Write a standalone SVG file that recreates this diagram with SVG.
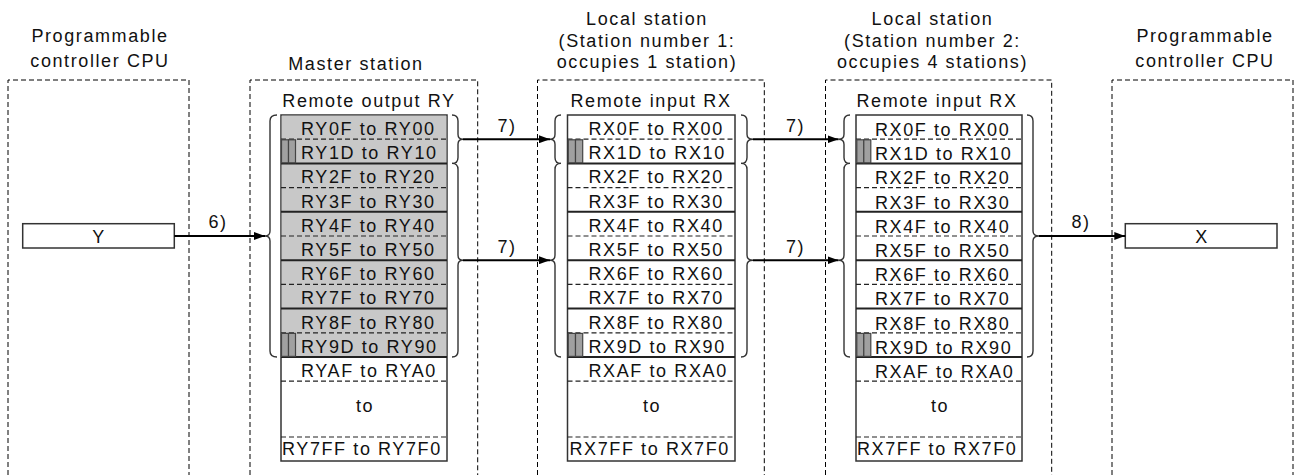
<svg xmlns="http://www.w3.org/2000/svg" width="1294" height="475" viewBox="0 0 1294 475">
<style>
  text { font-family: "Liberation Sans", Arial, sans-serif; font-size: 18px; fill: #111; letter-spacing: 1.6px; }
  .c { text-anchor: middle; }
  .zone { fill: none; stroke: #000; stroke-width: 1; stroke-dasharray: 5 3; }
  .tbl { fill: #fff; stroke: #333; stroke-width: 1.5; }
  .shade { fill: #c8c8c8; stroke: none; }
  .sep { stroke: #222; stroke-width: 2; }
  .dsep { stroke: #222; stroke-width: 1.2; stroke-dasharray: 5 3; }
  .bar { fill: #a0a0a0; stroke: #444; stroke-width: 1.2; }
  .brace { fill: none; stroke: #333; stroke-width: 1.4; }
  .box { fill: #fff; stroke: #333; stroke-width: 1.5; }
  .arrow { stroke: #000; stroke-width: 2; fill: none; marker-end: url(#ah); }
</style>
<defs>
  <marker id="ah" markerUnits="userSpaceOnUse" markerWidth="11" markerHeight="8" refX="11" refY="4" orient="auto">
    <path d="M0,0 L11,4 L0,8 z" fill="#000"/>
  </marker>
</defs>

<g id="cpu-left">
  <path class="zone" d="M8 475 V80 H189 V475"/>
  <text class="c" x="100" y="42">Programmable</text>
  <text class="c" x="100" y="67">controller CPU</text>
  <rect class="box" x="22.7" y="223.7" width="151.6" height="24.3"/>
  <text class="c" x="99" y="242.5">Y</text>
</g>

<g id="master">
  <path class="zone" d="M250 475 V80 H477.7 V475"/>
  <text class="c" x="356" y="70">Master station</text>
  <text class="c" x="369" y="107">Remote output RY</text>
  <rect class="tbl" x="281" y="115" width="166" height="346"/>
  <rect class="shade" x="281.7" y="115.7" width="164.6" height="241.3"/>
  <line class="dsep" x1="281" y1="139.2" x2="447" y2="139.2"/>
  <line class="sep" x1="281" y1="163.4" x2="447" y2="163.4"/>
  <line class="dsep" x1="281" y1="187.6" x2="447" y2="187.6"/>
  <line class="sep" x1="281" y1="211.8" x2="447" y2="211.8"/>
  <line class="dsep" x1="281" y1="236" x2="447" y2="236"/>
  <line class="sep" x1="281" y1="260.2" x2="447" y2="260.2"/>
  <line class="dsep" x1="281" y1="284.4" x2="447" y2="284.4"/>
  <line class="sep" x1="281" y1="308.6" x2="447" y2="308.6"/>
  <line class="dsep" x1="281" y1="332.8" x2="447" y2="332.8"/>
  <line class="sep" x1="281" y1="357" x2="447" y2="357"/>
  <line class="dsep" x1="281" y1="381.2" x2="447" y2="381.2"/>
  <line class="dsep" x1="281" y1="437" x2="447" y2="437"/>
  <rect class="bar" x="281.5" y="139.8" width="7" height="23"/>
  <rect class="bar" x="288.5" y="139.8" width="7" height="23"/>
  <rect class="bar" x="281.5" y="333.4" width="7" height="23"/>
  <rect class="bar" x="288.5" y="333.4" width="7" height="23"/>
  <text x="301" y="135">RY0F to RY00</text>
  <text x="301" y="159.2">RY1D to RY10</text>
  <text x="301" y="183.4">RY2F to RY20</text>
  <text x="301" y="207.6">RY3F to RY30</text>
  <text x="301" y="231.8">RY4F to RY40</text>
  <text x="301" y="256">RY5F to RY50</text>
  <text x="301" y="280.2">RY6F to RY60</text>
  <text x="301" y="304.4">RY7F to RY70</text>
  <text x="301" y="328.6">RY8F to RY80</text>
  <text x="301" y="352.8">RY9D to RY90</text>
  <text x="301" y="376.5">RYAF to RYA0</text>
  <text class="c" x="365" y="411.5">to</text>
  <text x="282" y="455">RY7FF to RY7F0</text>
  <path class="brace" d="M277 115 Q270 115 270 121 L270 231 Q270 236 265 236 Q270 236 270 241 L270 351 Q270 357 277 357"/>
  <path class="brace" d="M452 115 Q458 115 458 121 L458 134.2 Q458 139.2 463 139.2 Q458 139.2 458 144.2 L458 157.4 Q458 163.4 452 163.4"/>
  <path class="brace" d="M452 163.4 Q458 163.4 458 169.4 L458 255.2 Q458 260.2 463 260.2 Q458 260.2 458 265.2 L458 351 Q458 357 452 357"/>
</g>

<g id="local1">
  <path class="zone" d="M537.5 475 V80 H764.3 V475"/>
  <text class="c" x="647" y="25">Local station</text>
  <text class="c" x="647" y="46.5">(Station number 1:</text>
  <text class="c" x="647" y="68.3">occupies 1 station)</text>
  <text class="c" x="651" y="107">Remote input RX</text>
  <rect class="tbl" x="567.5" y="115" width="167.5" height="346"/>
  <line class="dsep" x1="567.5" y1="139.2" x2="735" y2="139.2"/>
  <line class="sep" x1="567.5" y1="163.4" x2="735" y2="163.4"/>
  <line class="dsep" x1="567.5" y1="187.6" x2="735" y2="187.6"/>
  <line class="sep" x1="567.5" y1="211.8" x2="735" y2="211.8"/>
  <line class="dsep" x1="567.5" y1="236" x2="735" y2="236"/>
  <line class="sep" x1="567.5" y1="260.2" x2="735" y2="260.2"/>
  <line class="dsep" x1="567.5" y1="284.4" x2="735" y2="284.4"/>
  <line class="sep" x1="567.5" y1="308.6" x2="735" y2="308.6"/>
  <line class="dsep" x1="567.5" y1="332.8" x2="735" y2="332.8"/>
  <line class="sep" x1="567.5" y1="357" x2="735" y2="357"/>
  <line class="dsep" x1="567.5" y1="381.2" x2="735" y2="381.2"/>
  <line class="dsep" x1="567.5" y1="437" x2="735" y2="437"/>
  <rect class="bar" x="568.3" y="139.8" width="7.2" height="23"/>
  <rect class="bar" x="575.5" y="139.8" width="7.2" height="23"/>
  <rect class="bar" x="568.3" y="333.4" width="7.2" height="23"/>
  <rect class="bar" x="575.5" y="333.4" width="7.2" height="23"/>
  <text x="588.5" y="135">RX0F to RX00</text>
  <text x="588.5" y="159.2">RX1D to RX10</text>
  <text x="588.5" y="183.4">RX2F to RX20</text>
  <text x="588.5" y="207.6">RX3F to RX30</text>
  <text x="588.5" y="231.8">RX4F to RX40</text>
  <text x="588.5" y="256">RX5F to RX50</text>
  <text x="588.5" y="280.2">RX6F to RX60</text>
  <text x="588.5" y="304.4">RX7F to RX70</text>
  <text x="588.5" y="328.6">RX8F to RX80</text>
  <text x="588.5" y="352.8">RX9D to RX90</text>
  <text x="588.5" y="376.5">RXAF to RXA0</text>
  <text class="c" x="652" y="411.5">to</text>
  <text x="569.5" y="455">RX7FF to RX7F0</text>
  <path class="brace" d="M561 115 Q555 115 555 121 L555 134.2 Q555 139.2 550 139.2 Q555 139.2 555 144.2 L555 157.4 Q555 163.4 561 163.4"/>
  <path class="brace" d="M561 163.4 Q555 163.4 555 169.4 L555 255.2 Q555 260.2 550 260.2 Q555 260.2 555 265.2 L555 351 Q555 357 561 357"/>
  <path class="brace" d="M741 115 Q747 115 747 121 L747 134.2 Q747 139.2 753 139.2 Q747 139.2 747 144.2 L747 157.4 Q747 163.4 741 163.4"/>
  <path class="brace" d="M741 163.4 Q747 163.4 747 169.4 L747 255.2 Q747 260.2 753 260.2 Q747 260.2 747 265.2 L747 351 Q747 357 741 357"/>
</g>

<g id="local2">
  <path class="zone" d="M825.5 475 V80 H1051.7 V475"/>
  <text class="c" x="932.5" y="25">Local station</text>
  <text class="c" x="932.5" y="46.5">(Station number 2:</text>
  <text class="c" x="932.5" y="68.3">occupies 4 stations)</text>
  <text class="c" x="937" y="107">Remote input RX</text>
  <rect class="tbl" x="856" y="115" width="166" height="346"/>
  <line class="dsep" x1="856" y1="139.2" x2="1022" y2="139.2"/>
  <line class="sep" x1="856" y1="163.4" x2="1022" y2="163.4"/>
  <line class="dsep" x1="856" y1="187.6" x2="1022" y2="187.6"/>
  <line class="sep" x1="856" y1="211.8" x2="1022" y2="211.8"/>
  <line class="dsep" x1="856" y1="236" x2="1022" y2="236"/>
  <line class="sep" x1="856" y1="260.2" x2="1022" y2="260.2"/>
  <line class="dsep" x1="856" y1="284.4" x2="1022" y2="284.4"/>
  <line class="sep" x1="856" y1="308.6" x2="1022" y2="308.6"/>
  <line class="dsep" x1="856" y1="332.8" x2="1022" y2="332.8"/>
  <line class="sep" x1="856" y1="357" x2="1022" y2="357"/>
  <line class="dsep" x1="856" y1="381.2" x2="1022" y2="381.2"/>
  <line class="dsep" x1="856" y1="437" x2="1022" y2="437"/>
  <rect class="bar" x="856.8" y="139.8" width="7" height="23"/>
  <rect class="bar" x="863.8" y="139.8" width="7" height="23"/>
  <rect class="bar" x="856.8" y="333.4" width="7" height="23"/>
  <rect class="bar" x="863.8" y="333.4" width="7" height="23"/>
  <text x="875" y="136">RX0F to RX00</text>
  <text x="875" y="160.2">RX1D to RX10</text>
  <text x="875" y="184.4">RX2F to RX20</text>
  <text x="875" y="208.6">RX3F to RX30</text>
  <text x="875" y="232.8">RX4F to RX40</text>
  <text x="875" y="257">RX5F to RX50</text>
  <text x="875" y="281.2">RX6F to RX60</text>
  <text x="875" y="305.4">RX7F to RX70</text>
  <text x="875" y="329.6">RX8F to RX80</text>
  <text x="875" y="353.8">RX9D to RX90</text>
  <text x="875" y="377.5">RXAF to RXA0</text>
  <text class="c" x="940" y="411.5">to</text>
  <text x="857" y="455">RX7FF to RX7F0</text>
  <path class="brace" d="M850 115 Q844 115 844 121 L844 134.2 Q844 139.2 838.5 139.2 Q844 139.2 844 144.2 L844 157.4 Q844 163.4 850 163.4"/>
  <path class="brace" d="M850 163.4 Q844 163.4 844 169.4 L844 255.2 Q844 260.2 838.5 260.2 Q844 260.2 844 265.2 L844 351 Q844 357 850 357"/>
  <path class="brace" d="M1027 115 Q1033 115 1033 121 L1033 231 Q1033 236 1039 236 Q1033 236 1033 241 L1033 351 Q1033 357 1027 357"/>
</g>

<g id="cpu-right">
  <path class="zone" d="M1112 475 V80 H1293 V475"/>
  <text class="c" x="1205" y="42">Programmable</text>
  <text class="c" x="1205" y="67">controller CPU</text>
  <rect class="box" x="1125.3" y="223.7" width="151.7" height="24.3"/>
  <text class="c" x="1202" y="242.5">X</text>
</g>

<g id="connectors">
  <line class="arrow" x1="174.3" y1="236" x2="265" y2="236"/>
  <text class="c" x="218" y="228">6)</text>
  <line class="arrow" x1="463" y1="139.2" x2="550" y2="139.2"/>
  <text class="c" x="507" y="131.5">7)</text>
  <line class="arrow" x1="463" y1="260.2" x2="550" y2="260.2"/>
  <text class="c" x="507" y="252.5">7)</text>
  <line class="arrow" x1="753" y1="139.2" x2="838.5" y2="139.2"/>
  <text class="c" x="795.5" y="131.5">7)</text>
  <line class="arrow" x1="753" y1="260.2" x2="838.5" y2="260.2"/>
  <text class="c" x="795.5" y="252.5">7)</text>
  <line class="arrow" x1="1039" y1="236" x2="1125.3" y2="236"/>
  <text class="c" x="1081" y="228">8)</text>
</g>
</svg>
